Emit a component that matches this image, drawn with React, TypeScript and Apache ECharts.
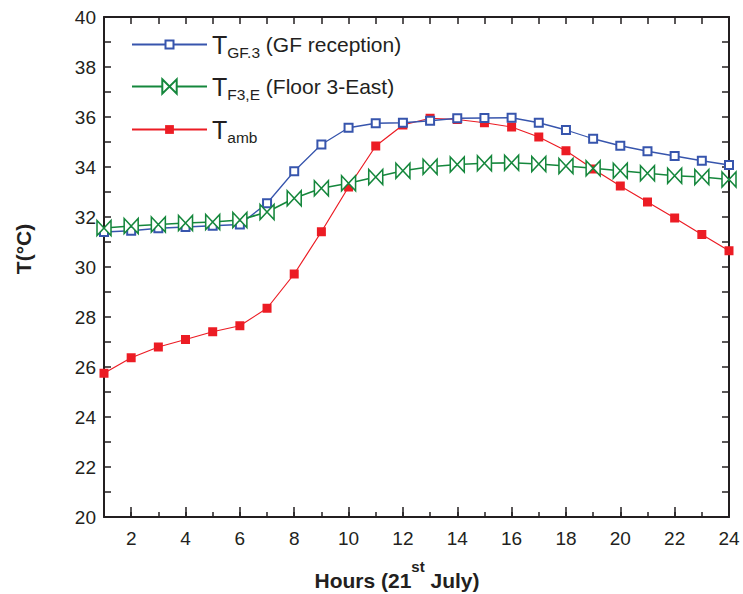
import React, { useEffect, useRef } from 'react';
import * as echarts from 'echarts';

const hours = [1, 2, 3, 4, 5, 6, 7, 8, 9, 10, 11, 12, 13, 14, 15, 16, 17, 18, 19, 20, 21, 22, 23, 24];
const majorHourTicks = [2, 4, 6, 8, 10, 12, 14, 16, 18, 20, 22, 24];

const tGF3 = [31.4, 31.45, 31.55, 31.6, 31.65, 31.7, 32.55, 33.83, 34.9, 35.57, 35.75, 35.77, 35.85, 35.95, 35.96, 35.97, 35.77, 35.48, 35.13, 34.85, 34.63, 34.44, 34.25, 34.08];
const tF3E = [31.56, 31.64, 31.7, 31.76, 31.8, 31.88, 32.2, 32.75, 33.15, 33.35, 33.6, 33.85, 34.01, 34.1, 34.15, 34.17, 34.12, 34.04, 33.95, 33.85, 33.75, 33.65, 33.6, 33.5];
const tAmb = [25.75, 26.37, 26.8, 27.1, 27.41, 27.65, 28.35, 29.72, 31.41, 33.2, 34.84, 35.68, 35.95, 35.9, 35.77, 35.6, 35.2, 34.65, 33.92, 33.24, 32.6, 31.96, 31.3, 30.65];

const seriesNames = ['TGF.3 (GF reception)', 'TF3,E (Floor 3-East)', 'Tamb'];
const legendRich: Record<string, string> = {
  'TGF.3 (GF reception)': '{t|T}{s|GF.3}{n| (GF reception)}',
  'TF3,E (Floor 3-East)': '{t|T}{s|F3,E}{n| (Floor 3-East)}',
  'Tamb': '{t|T}{s|amb}',
};

const FONT = '"Liberation Sans", Arial, Helvetica, sans-serif';
const INK = '#231f20';
const BLUE = '#3755ad';
const GREEN = '#15873c';
const RED = '#ec1c24';

const pairs = (ys: number[]) => hours.map((h, i) => [h, ys[i]]);

const richStyle = {
  t: { fontFamily: FONT, fontSize: 25, color: INK },
  s: { fontFamily: FONT, fontSize: 15.5, color: INK, padding: [16, 0, 0, 0] },
  n: { fontFamily: FONT, fontSize: 21, color: INK },
};

const legendBase = {
  orient: 'vertical',
  left: 131,
  padding: 0,
  itemWidth: 75,
  selectedMode: false,
  formatter: (name: string) => legendRich[name] || name,
  textStyle: { rich: richStyle },
};

export default function App() {
  const ref = useRef<HTMLDivElement>(null);
  useEffect(() => {
    const chart = echarts.init(ref.current!, null, { renderer: 'svg' });
    const axisLine = { show: true, onZero: false, lineStyle: { color: INK, width: 2 } };
    const option: any = {
      animation: false,
      backgroundColor: '#ffffff',
      grid: { left: 104, right: 14, top: 17, bottom: 77 },
      xAxis: [
        {
          type: 'value', min: 1, max: 24, interval: 1, position: 'bottom',
          axisLine,
          axisTick: { show: true, inside: true, length: 5, lineStyle: { color: INK, width: 1.5 } },
          axisLabel: {
            margin: 12, fontFamily: FONT, fontSize: 19, color: INK,
            formatter: (v: number) => (v % 2 === 0 ? String(v) : ''),
          },
          splitLine: { show: false },
        },
        {
          type: 'value', min: 1, max: 24, position: 'bottom',
          axisLine: { show: false, onZero: false },
          axisTick: { show: true, inside: true, length: 10, customValues: majorHourTicks, lineStyle: { color: INK, width: 1.5 } },
          axisLabel: { show: false },
          splitLine: { show: false },
        },
        {
          type: 'value', min: 1, max: 24, interval: 1, position: 'top',
          axisLine,
          axisTick: { show: true, inside: true, length: 7, lineStyle: { color: INK, width: 1.5 } },
          axisLabel: { show: false },
          splitLine: { show: false },
        },
      ],
      yAxis: [
        {
          type: 'value', min: 20, max: 40, interval: 1, position: 'left',
          axisLine,
          axisTick: { show: true, inside: true, length: 7, lineStyle: { color: INK, width: 1.5 } },
          axisLabel: {
            margin: 8, fontFamily: FONT, fontSize: 19, color: INK,
            formatter: (v: number) => (v % 2 === 0 ? String(v) : ''),
          },
          splitLine: { show: false },
        },
        {
          type: 'value', min: 20, max: 40, interval: 1, position: 'right',
          axisLine,
          axisTick: { show: true, inside: true, length: 7, lineStyle: { color: INK, width: 1.5 } },
          axisLabel: { show: false },
          splitLine: { show: false },
        },
      ],
      legend: [
        { ...legendBase, top: 32, itemHeight: 10, data: [seriesNames[0]] },
        { ...legendBase, top: 74, itemHeight: 18, data: [seriesNames[1]] },
        { ...legendBase, top: 117, itemHeight: 11, data: [seriesNames[2]] },
      ],
      series: [
        {
          name: seriesNames[2], type: 'line', xAxisIndex: 0, yAxisIndex: 0,
          data: pairs(tAmb),
          symbol: 'rect', symbolSize: 9,
          itemStyle: { color: RED },
          lineStyle: { color: RED, width: 1.2 },
        },
        {
          name: seriesNames[0], type: 'line', xAxisIndex: 0, yAxisIndex: 0,
          data: pairs(tGF3),
          symbol: 'emptyRect', symbolSize: 8,
          itemStyle: { color: BLUE, borderWidth: 1.5 },
          lineStyle: { color: BLUE, width: 1.3 },
        },
        {
          name: seriesNames[1], type: 'line', xAxisIndex: 0, yAxisIndex: 0,
          data: pairs(tF3E),
          symbol: 'path://M0,0L10,10L10,0L0,10Z', symbolSize: [14, 15], symbolKeepAspect: false,
          itemStyle: { color: '#ffffff', borderColor: GREEN, borderWidth: 1.6 },
          lineStyle: { color: GREEN, width: 1.7 },
        },
      ],
      graphic: [
        {
          type: 'text', x: 23, y: 249, rotation: Math.PI / 2,
          style: { text: 'T(°C)', font: `bold 21px ${FONT}`, fill: INK, align: 'center', verticalAlign: 'middle' },
        },
        {
          type: 'text', x: 397, y: 580,
          style: {
            text: '{a|Hours (21}{b|st}{a| July)}',
            align: 'center', verticalAlign: 'middle',
            rich: {
              a: { fontFamily: FONT, fontWeight: 'bold', fontSize: 21, fill: INK },
              b: { fontFamily: FONT, fontWeight: 'bold', fontSize: 15, fill: INK, padding: [0, 0, 28, 0] },
            },
          },
        },
      ],
    };
    chart.setOption(option);
    return () => chart.dispose();
  }, []);
  return <div ref={ref} style={{ position: 'absolute', left: 0, top: 0, width: 743, height: 594 }} />;
}
